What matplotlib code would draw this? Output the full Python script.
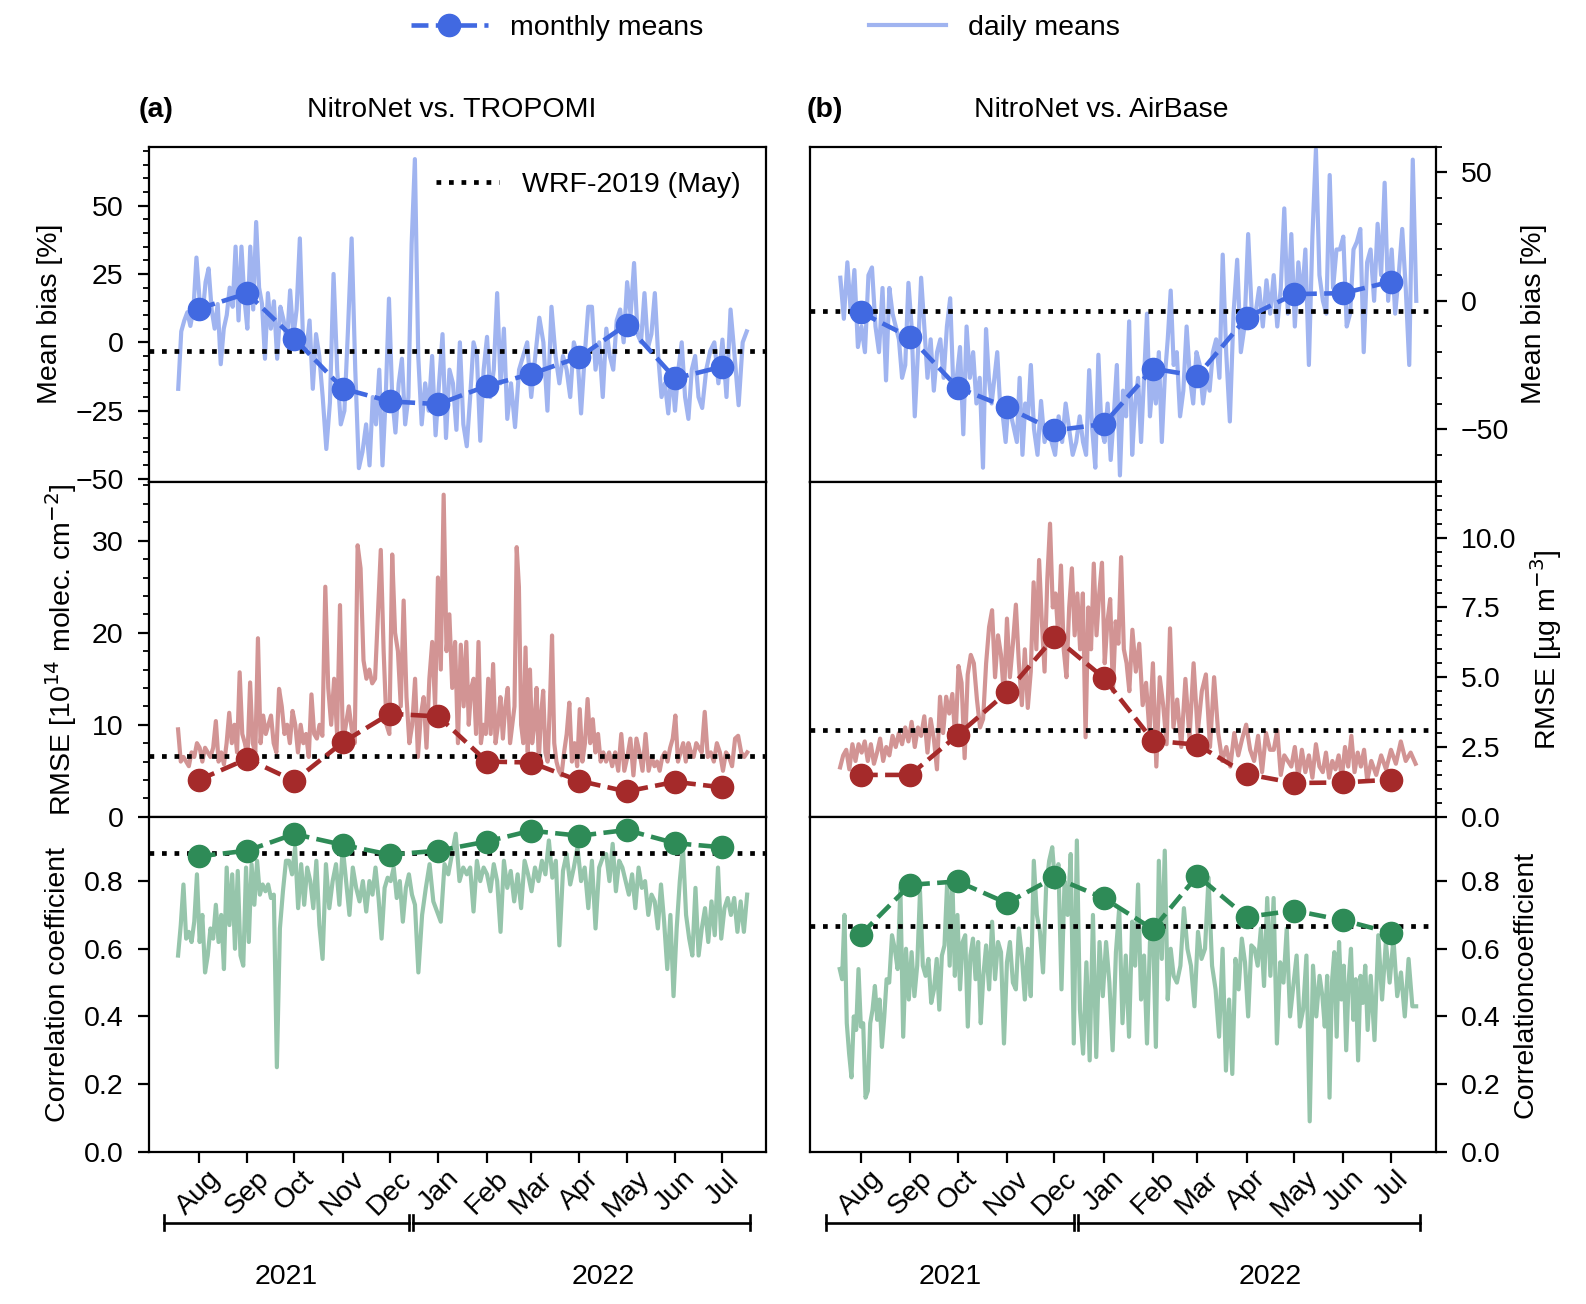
import matplotlib
matplotlib.use('Agg')
import matplotlib.pyplot as plt
import matplotlib.dates as mdates
import matplotlib.transforms as mtrans
from matplotlib.ticker import MultipleLocator
import numpy as np
import datetime as dt
import calendar

# ---------------- data ----------------
month_labels = ['Aug', 'Sep', 'Oct', 'Nov', 'Dec', 'Jan', 'Feb', 'Mar', 'Apr', 'May', 'Jun', 'Jul']
year_labels = ['2021', '2022']

bias_tropomi_monthly = [12.3, 17.9, 1.4, -16.9, -21.6, -22.6, -15.9, -11.6, -5.4, 6.5, -13.2, -8.9]
bias_airbase_monthly = [-4.5, -14.2, -33.8, -41.5, -50.5, -48.0, -26.4, -29.3, -6.5, 2.6, 3.0, 7.5]
rmse_tropomi_monthly = [4.0, 6.3, 3.9, 8.1, 11.2, 10.9, 6.0, 5.9, 3.9, 2.75, 3.8, 3.2]
rmse_airbase_monthly = [1.5, 1.5, 2.93, 4.46, 6.44, 4.98, 2.73, 2.58, 1.53, 1.21, 1.23, 1.33]
corr_tropomi_monthly = [0.873, 0.89, 0.939, 0.907, 0.878, 0.89, 0.917, 0.949, 0.934, 0.951, 0.912, 0.90]
corr_airbase_monthly = [0.642, 0.789, 0.799, 0.735, 0.811, 0.75, 0.658, 0.816, 0.694, 0.713, 0.684, 0.647]

wrf_bias_tropomi = -3.0
wrf_bias_airbase = -4.0
wrf_rmse_tropomi = 6.6
wrf_rmse_airbase = 3.1
wrf_corr_tropomi = 0.882
wrf_corr_airbase = 0.666

# daily means, grouped by month (Aug 2021 ... Jul 2022)
bias_tropomi_daily = [
    [-17, 4, 8, 11, 6, 12, 31, 16, 10, 22, 27, 12, 5, 14, -8, 5],
    [10, 20, 13, 35, 8, 35, 16, 5, 35, 12, 44, 20, 14, -6, 18, 5],
    [15, -6, 13, 8, 0, 19, 2, 12, 38, 0, -3, 8, -17, 3, -5],
    [-20, -39, -22, 25, -10, -30, -25, 5, 38, -10, -46, -40, -30],
    [-45, -20, -30, -10, -45, -20, 16, -20, -33, -15, -6, -30, -20, 36, 67],
    [-5, -30, -15, -25, -5, -34, -15, 3, -35, -10, -15, -32, 0, -30],
    [-38, -20, 0, -5, -36, -10, 2, -20, -10, 18, -15, 5, -28],
    [-15, -31, -10, -5, 0, -20, -5, 9, 0, -25, 13, -5],
    [-15, -5, -10, -20, 0, -5, -26, -5, 13, 13, -10, 0, -20],
    [5, -5, -10, 8, 12, 0, 22, 10, 29, 3, 0, 18, -2, 3],
    [18, -5, -20, -15, -26, -10, -25, -10, 0, -20, -28, -10, -5, -20],
    [-24, -10, -3, 0, -15, 1, -20, 12, -5, -23, 0, 4],
]
bias_airbase_daily = [
    [9, -7, 15, -5, 12, -18, -10, -20, 10, 13, -10, -20, 5, -31],
    [5, -5, -10, -15, -30, -25, 7, -10, -45, -20, 9, -10, -30, -15, -35],
    [-20, -15, -30, -10, 1, -35, -30, -18, -52, -10, -30, -20, -40, -30, -65],
    [-11, -30, -40, -30, -20, -40, -45, -55, -40, -45, -50, -55, -30, -60, -40, -45, -25],
    [-50, -60, -39, -55, -50, -55, -60, -45, -55, -40, -50, -60, -55, -45],
    [-55, -60, -27, -50, -65, -21, -50, -55, -40, -62, -45, -25, -68, -35, -45, -8],
    [-60, -40, -30, -55, -30, -5, -45, -30, -40, -20, -55, -30, -15, 4, -25],
    [-20, -45, -35, -10, -30, -40, -20, -25, -40, -30, -35, -20, -15, -30, 18],
    [-20, -47, -5, 16, -20, -10, 26, -5, -5, 5, -10, 8, -5],
    [10, -10, 5, 36, -5, 26, -10, 15, 0, 20, -25, 25, 59, 10],
    [0, -5, 49, 5, 20, 20, 25, -10, -5, 20, 23, 28, -20, 15],
    [20, 0, 30, 10, 46, 0, 20, -5, 10, 28, 5, -25, 55, 0],
]
rmse_tropomi_daily = [
    [9.5, 6, 6.5, 6, 5.5, 7, 6.5, 8, 7.5, 6, 7.5, 7, 6.5, 7.5, 10.4, 6, 7, 5.7],
    [8, 11.3, 8, 10, 7, 15.7, 9, 8, 6.5, 14.6, 8, 7, 19.4, 8, 11, 9, 10, 11],
    [8, 7, 13.9, 12, 9, 10, 8, 11.5, 10, 7, 10, 8, 9, 6.5, 13.3, 9, 8.5, 10],
    [8.8, 25, 14, 10, 15, 9, 23, 8, 10, 12, 9.5, 8, 29.5, 27, 17, 15],
    [16, 14.5, 15, 22, 29, 18, 10, 9, 28.5, 20, 18, 12, 23.5, 13, 8, 10, 15],
    [6.5, 11, 13, 7.5, 15, 19, 12, 26, 16, 35, 18, 22, 14, 19, 8, 18.7, 12],
    [19, 10, 14, 15, 9, 19, 8, 10, 9, 15, 9, 16.6, 8, 10, 13, 8.5, 12, 14],
    [8, 10, 12, 29.3, 25, 10, 8, 18.4, 7, 16, 8, 10, 14, 6, 11, 13.7, 7, 6, 12, 19.7, 8, 6],
    [5, 4.5, 7, 9, 12.4, 6, 8, 5.5, 11.7, 6, 8, 12.8, 8, 10.6, 7, 9, 6, 7],
    [6, 7, 5.5, 7, 5, 9, 5, 6.5, 8.5, 4.5, 8.5, 7, 5, 9, 5, 6.5],
    [5.5, 6, 5, 6.5, 7, 6, 7.5, 8.5, 11, 6, 7, 8, 6, 8, 7, 6.5, 8, 7.5],
    [7, 11.4, 6.5, 7, 6, 8, 7, 5, 7, 6.5, 5.5, 8.5, 8.8, 7, 6.5, 7],
]
rmse_airbase_daily = [
    [1.77, 2.2, 2.4, 1.7, 2.6, 2.0, 2.6, 2.3, 2.7, 2.0, 2.6, 1.9, 2.3, 2.8, 2.0, 2.5],
    [2.2, 2.9, 2.5, 3.0, 2.6, 3.2, 2.7, 3.4, 2.5, 3.2, 2.9, 3.6, 2.3, 3.5, 2.8],
    [1.7, 4.3, 3.0, 4.3, 3.7, 4.4, 2.7, 5.4, 4.8, 2.1, 5.1, 5.8, 5.5, 4.2, 3.2, 3.5],
    [5.5, 6.8, 7.4, 5.0, 6.5, 5.8, 4.3, 7.1, 5.0, 6.2, 7.6, 5.5, 4.0, 6.0, 3.9, 5.2],
    [8.4, 6.0, 9.2, 7.0, 5.2, 8.5, 10.5, 7.5, 8.0, 6.5, 9.0, 6.0, 5.0, 7.5, 8.9, 6.5, 8.0, 6.0],
    [8.0, 2.85, 7.5, 6.0, 9.07, 6.5, 8.0, 9.1, 5.5, 7.0, 7.8, 4.5, 7.0, 6.2, 9.3, 6.0, 5.5, 4.5],
    [6.7, 5.2, 6.2, 4.0, 4.8, 3.0, 5.5, 1.8, 5.0, 4.0, 2.6, 6.75, 3.2],
    [4.2, 2.5, 4.94, 2.8, 5.5, 3.0, 4.5, 5.1, 2.5, 5.0, 3.0, 2.0],
    [2.5, 1.8, 3.0, 2.2, 2.8, 3.3, 2.4, 2.0, 2.9, 1.6, 3.0, 2.4],
    [2.4, 3.1, 1.5, 2.2, 2.0, 1.8, 2.5, 1.4, 2.4, 1.6, 2.2, 1.4, 2.6, 1.8],
    [1.6, 2.3, 1.4, 2.0, 1.7, 2.2, 1.4, 2.5, 1.8, 2.9, 1.6, 2.3, 1.8, 2.4, 1.3],
    [2.0, 1.5, 2.2, 1.7, 2.4, 1.9, 2.7, 2.0, 2.3, 1.9],
]
corr_tropomi_daily = [
    [0.58, 0.67, 0.79, 0.63, 0.65, 0.62, 0.68, 0.82, 0.62, 0.70, 0.53, 0.58, 0.66, 0.63, 0.73, 0.62, 0.70, 0.54],
    [0.84, 0.67, 0.82, 0.60, 0.83, 0.58, 0.55, 0.84, 0.62, 0.85, 0.73, 0.86, 0.76, 0.79, 0.77, 0.79, 0.75],
    [0.76, 0.25, 0.66, 0.77, 0.86, 0.86, 0.82, 0.90, 0.72, 0.85, 0.73, 0.84, 0.80, 0.72, 0.86, 0.67],
    [0.57, 0.85, 0.72, 0.80, 0.85, 0.73, 0.90, 0.80, 0.70, 0.84, 0.78, 0.74, 0.80, 0.71],
    [0.80, 0.76, 0.84, 0.75, 0.63, 0.78, 0.81, 0.80, 0.84, 0.75, 0.80, 0.68, 0.78, 0.82, 0.76, 0.73],
    [0.53, 0.70, 0.78, 0.85, 0.74, 0.71, 0.68, 0.85, 0.82, 0.88, 0.94, 0.80, 0.84],
    [0.82, 0.84, 0.71, 0.86, 0.80, 0.84, 0.82, 0.77, 0.85, 0.80, 0.65, 0.86, 0.78],
    [0.83, 0.74, 0.82, 0.72, 0.86, 0.82, 0.77, 0.84, 0.80, 0.86, 0.82, 0.92, 0.81, 0.86],
    [0.61, 0.83, 0.88, 0.79, 0.84, 0.90, 0.80, 0.84, 0.72, 0.86, 0.66, 0.84, 0.87],
    [0.88, 0.80, 0.91, 0.77, 0.86, 0.84, 0.80, 0.76, 0.82, 0.72, 0.84, 0.78, 0.80, 0.70, 0.76],
    [0.74, 0.66, 0.79, 0.68, 0.54, 0.70, 0.46, 0.66, 0.80, 0.90, 0.70, 0.63, 0.58, 0.78, 0.58],
    [0.66, 0.72, 0.62, 0.74, 0.64, 0.84, 0.63, 0.72, 0.75, 0.70, 0.75, 0.65, 0.74, 0.65, 0.76],
]
corr_airbase_daily = [
    [0.54, 0.51, 0.70, 0.38, 0.29, 0.22, 0.40, 0.36, 0.54, 0.37, 0.38, 0.16, 0.18, 0.38, 0.42, 0.49, 0.39, 0.45, 0.31, 0.40, 0.51],
    [0.50, 0.64, 0.60, 0.54, 0.78, 0.34, 0.60, 0.45, 0.59, 0.46, 0.55, 0.77, 0.55, 0.52, 0.57, 0.44, 0.48],
    [0.57, 0.42, 0.58, 0.61, 0.79, 0.55, 0.82, 0.52, 0.70, 0.48, 0.62, 0.64, 0.37, 0.58, 0.63, 0.51, 0.62, 0.38, 0.52],
    [0.61, 0.48, 0.68, 0.51, 0.62, 0.59, 0.32, 0.56, 0.62, 0.50, 0.48, 0.66, 0.58, 0.45, 0.60, 0.46],
    [0.86, 0.70, 0.65, 0.53, 0.78, 0.86, 0.90, 0.78, 0.85, 0.48, 0.80, 0.70, 0.88, 0.32, 0.92, 0.42],
    [0.29, 0.56, 0.27, 0.70, 0.28, 0.62, 0.46, 0.62, 0.50, 0.30, 0.59, 0.72, 0.38, 0.58, 0.34],
    [0.68, 0.55, 0.79, 0.45, 0.58, 0.32, 0.62, 0.68, 0.31, 0.86, 0.57, 0.89, 0.45, 0.60, 0.52],
    [0.50, 0.55, 0.72, 0.60, 0.55, 0.43, 0.65, 0.57, 0.60, 0.81, 0.55, 0.48, 0.34, 0.60],
    [0.24, 0.45, 0.23, 0.57, 0.48, 0.63, 0.56, 0.40, 0.61, 0.60, 0.55, 0.66, 0.49, 0.75, 0.52],
    [0.75, 0.32, 0.56, 0.50, 0.66, 0.40, 0.49, 0.58, 0.37, 0.42, 0.58, 0.09, 0.55, 0.40, 0.52],
    [0.46, 0.37, 0.52, 0.16, 0.50, 0.59, 0.34, 0.62, 0.45, 0.55, 0.30, 0.50, 0.60, 0.39, 0.51, 0.27, 0.52, 0.44, 0.55, 0.36],
    [0.52, 0.33, 0.64, 0.45, 0.62, 0.50, 0.63, 0.46, 0.53, 0.40, 0.57, 0.43, 0.43],
]

# ---------------- style ----------------
FS = 20.5
plt.rcParams['font.family'] = ['Liberation Sans', 'DejaVu Sans']
plt.rcParams['font.size'] = FS
plt.rcParams['axes.linewidth'] = 1.6
plt.rcParams['axes.labelpad'] = 9
for a in ('xtick', 'ytick'):
    plt.rcParams[a + '.major.size'] = 8
    plt.rcParams[a + '.major.width'] = 1.6
    plt.rcParams[a + '.minor.size'] = 4.5
    plt.rcParams[a + '.minor.width'] = 1.3
    plt.rcParams[a + '.labelsize'] = FS
plt.rcParams['xtick.major.pad'] = 2.0
plt.rcParams['ytick.major.pad'] = 10.0

BLUE, BLUE_L = '#4169e1', '#a0b4f0'
RED, RED_L = '#a52a2a', '#d29494'
GREEN, GREEN_L = '#2e8b57', '#96c5ab'

# month positions
month_first = []
for i in range(12):
    y = 2021 + (7 + i) // 12
    m = (7 + i) % 12 + 1
    month_first.append(dt.date(y, m, 1))
month_mid = [mdates.date2num(dt.date(d.year, d.month, 15)) for d in month_first]


def expand(series):
    xs, ys = [], []
    for d, vals in zip(month_first, series):
        nd = calendar.monthrange(d.year, d.month)[1]
        start = mdates.date2num(d)
        n = len(vals)
        for k, v in enumerate(vals):
            xs.append(start + (k + 0.5) * nd / n)
            ys.append(v)
    return np.array(xs), np.array(ys)


fig = plt.figure(figsize=(15.86, 13.04), dpi=100)
W, H = 1586.0, 1304.0
colx = [(148.5, 617.5), (810, 625.5)]
rows = [(146.8, 481.8), (481.8, 816.8), (816.8, 1151.8)]
axes = {}
for c, (x0, w) in enumerate(colx):
    for r, (yt, yb) in enumerate(rows):
        axes[(r, c)] = fig.add_axes([x0 / W, 1 - yb / H, w / W, (yb - yt) / H])

xlim = (mdates.date2num(dt.date(2021, 7, 14)), mdates.date2num(dt.date(2022, 8, 12)))

panels = {
    (0, 0): (bias_tropomi_daily, bias_tropomi_monthly, wrf_bias_tropomi, BLUE, BLUE_L),
    (1, 0): (rmse_tropomi_daily, rmse_tropomi_monthly, wrf_rmse_tropomi, RED, RED_L),
    (2, 0): (corr_tropomi_daily, corr_tropomi_monthly, wrf_corr_tropomi, GREEN, GREEN_L),
    (0, 1): (bias_airbase_daily, bias_airbase_monthly, wrf_bias_airbase, BLUE, BLUE_L),
    (1, 1): (rmse_airbase_daily, rmse_airbase_monthly, wrf_rmse_airbase, RED, RED_L),
    (2, 1): (corr_airbase_daily, corr_airbase_monthly, wrf_corr_airbase, GREEN, GREEN_L),
}
handles = {}
for key, (daily, monthly, wrf, col, light) in panels.items():
    ax = axes[key]
    x, y = expand(daily)
    hd, = ax.plot(x, y, color=light, lw=3.0, zorder=1)
    hw = ax.axhline(wrf, color='k', ls=':', lw=3.4, zorder=2)
    hm, = ax.plot(month_mid, monthly, color=col, ls='--', lw=3.3, marker='o', ms=16, zorder=3)
    handles[key] = (hd, hw, hm)
    ax.set_xlim(*xlim)
    ax.set_xticks(month_mid)
    if key[0] < 2:
        ax.tick_params(axis='x', bottom=False, labelbottom=False)
    else:
        ax.set_xticklabels(month_labels, rotation=45, ha='center')
    if key[1] == 1:
        ax.yaxis.tick_right()
        ax.yaxis.set_label_position('right')

# y axes
a = axes[(0, 0)]
a.set_ylim(-51, 71.5); a.yaxis.set_major_locator(MultipleLocator(25)); a.yaxis.set_minor_locator(MultipleLocator(5))
a.set_ylabel('Mean bias [%]')
a = axes[(1, 0)]
a.set_ylim(0, 36.4); a.yaxis.set_major_locator(MultipleLocator(10)); a.yaxis.set_minor_locator(MultipleLocator(2))
a.set_ylabel('RMSE [10$^{14}$ molec. cm$^{-2}$]')
a = axes[(2, 0)]
a.set_ylim(0, 0.99); a.yaxis.set_major_locator(MultipleLocator(0.2))
a.set_ylabel('Correlation coefficient')
a = axes[(0, 1)]
a.set_ylim(-70.5, 60); a.yaxis.set_major_locator(MultipleLocator(50)); a.yaxis.set_minor_locator(MultipleLocator(10))
a.set_ylabel('Mean bias [%]')
a = axes[(1, 1)]
a.set_ylim(0, 12.0); a.yaxis.set_major_locator(MultipleLocator(2.5)); a.yaxis.set_minor_locator(MultipleLocator(0.5))
a.set_ylabel('RMSE [µg m$^{-3}$]')
a = axes[(2, 1)]
a.set_ylim(0, 0.99); a.yaxis.set_major_locator(MultipleLocator(0.2))
a.set_ylabel('Correlationcoefficient')

# WRF legend
axes[(0, 0)].legend([handles[(0, 0)][1]], ['WRF-2019 (May)'], loc='upper right', frameon=False,
                    handlelength=2.2, fontsize=FS, borderaxespad=0.5)

# figure legend
fig.legend([handles[(0, 0)][2], handles[(0, 0)][0]], ['monthly means', 'daily means'],
           loc='upper center', bbox_to_anchor=(0.4827, 1.008), ncol=2, frameon=False,
           handlelength=2.7, columnspacing=5.8, fontsize=FS)

# titles
ty = 1 - 110 / H
fig.text(138.7 / W, ty, '(a)', fontweight='bold', ha='left', va='center', fontsize=FS)
fig.text(452 / W, ty, 'NitroNet vs. TROPOMI', ha='center', va='center', fontsize=FS)
fig.text(807 / W, ty, '(b)', fontweight='bold', ha='left', va='center', fontsize=FS)
fig.text(1101 / W, ty, 'NitroNet vs. AirBase', ha='center', va='center', fontsize=FS)

# year brackets
spans = [(dt.date(2021, 7, 24), dt.date(2021, 12, 27)), (dt.date(2021, 12, 30), dt.date(2022, 8, 2))]
ylab_pos = [dt.date(2021, 10, 10), dt.date(2022, 4, 30)]
for c in (0, 1):
    ax = axes[(2, c)]
    tr = mtrans.blended_transform_factory(ax.transData, ax.transAxes)
    yb = -0.212
    for (d0, d1), lab, lp in zip(spans, year_labels, ylab_pos):
        x0, x1 = mdates.date2num(d0), mdates.date2num(d1)
        ax.plot([x0, x1], [yb, yb], color='k', lw=1.9, transform=tr, clip_on=False)
        for xx in (x0, x1):
            ax.plot([xx, xx], [yb - 0.022, yb + 0.022], color='k', lw=1.9, transform=tr, clip_on=False)
        ax.text(mdates.date2num(lp), -0.373, lab, transform=tr, ha='center', va='center', fontsize=FS)

fig.savefig('out.png', dpi=100)
